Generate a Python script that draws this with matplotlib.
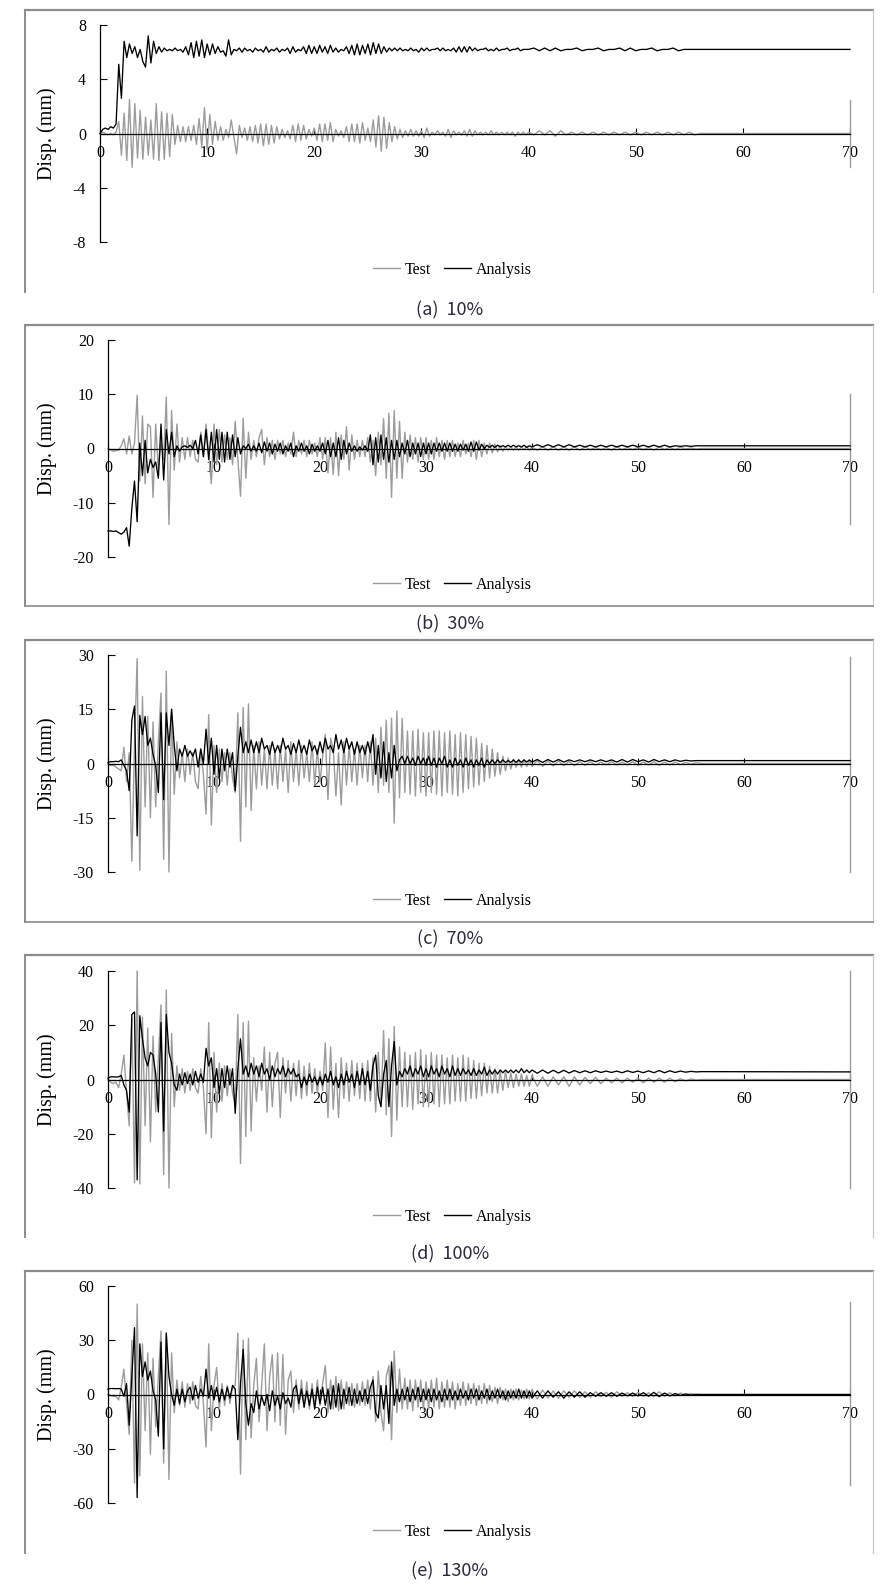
import numpy as np
import matplotlib
matplotlib.use("Agg")
import matplotlib.pyplot as plt
from matplotlib.lines import Line2D

SERIF = ["Liberation Serif", "DejaVu Serif"]
plt.rcParams["font.family"] = SERIF

# ---------------- data ----------------
t_main = np.arange(161) * 0.25          # 0 .. 40 s
t_tail = 40.5 + np.arange(32) * 0.5     # 40.5 .. 56 s
t_last = 70.0

case_labels = ["(a)", "(b)", "(c)", "(d)", "(e)"]
level_labels = ["10%", "30%", "70%", "100%", "130%"]
y_limits = [8, 20, 30, 40, 60]
y_ticks = [[-8, -4, 0, 4, 8], [-20, -10, 0, 10, 20], [-30, -15, 0, 15, 30],
           [-40, -20, 0, 20, 40], [-60, -30, 0, 30, 60]]
x_ticks = [0, 10, 20, 30, 40, 50, 60, 70]

# ---- (a) 10% ----
test_a = [0, 0.1, 0, -0.1, 0, -0.1, 0.1, 0.9,
          -1.6, 1.5, -2.0, 2.5, -2.5, 2.2, -1.8, 1.7,
          -1.9, 1.2, -1.6, 1.0, -1.9, 2.2, -2.0, 1.6,
          -1.9, 1.5, -1.7, 1.4, -0.8, 0.6, -0.6, 0.5,
          -0.6, 0.5, -0.5, 0.6, -0.8, 1.1, -1.0, 1.9,
          -1.2, 1.4, -0.8, 0.9, -0.5, 0.5, -0.5, 0.3,
          -0.3, 1.0, -0.3, -1.5, 0.6, -0.3, 0.4, -0.5,
          0.5, -0.6, 0.6, -0.7, 0.7, -0.9, 0.7, -0.8,
          0.6, -0.7, 0.5, -0.4, 0.3, -0.3, 0.2, -0.4,
          0.6, -0.6, 0.7, -0.5, 0.6, -0.4, 0.3, -0.2,
          0.4, -0.5, 0.7, -0.6, 0.7, -0.5, 0.8, -0.6,
          0.3, -0.2, 0.2, -0.3, 0.5, -0.6, 0.7, -0.6,
          0.7, -0.7, 0.8, -0.5, 0.4, -0.6, 1.0, -1.0,
          1.3, -1.3, 1.2, -1.1, 0.8, -0.6, 0.5, -0.4,
          0.3, -0.3, 0.2, -0.2, 0.3, -0.2, 0.2, -0.2,
          0.2, -0.3, 0.4, -0.2, 0.1, -0.1, 0.2, -0.1,
          0.1, -0.2, 0.3, -0.3, 0.2, -0.1, 0.1, -0.1,
          0.2, -0.2, 0.3, -0.2, 0.2, -0.1, 0.1, -0.1,
          0.1, -0.1, 0.2, -0.1, 0.1, -0.1, 0.1, -0.1,
          0.1, -0.1, 0.1, -0.2, 0.1, -0.1, 0.1, -0.1,
          0.1]
analysis_a = [0, 0.3, 0.4, 0.3, 0.5, 0.4, 0.7, 5.1,
              2.6, 6.8, 5.6, 6.6, 5.9, 6.4, 5.6, 6.2,
              5.3, 4.9, 7.2, 5.2, 6.8, 5.9, 6.4, 6.0,
              6.3, 6.1, 6.2, 6.1, 6.3, 6.1, 6.2, 6.0,
              6.4, 5.8, 6.7, 5.6, 6.8, 5.7, 6.9, 5.6,
              6.6, 5.8, 6.6, 5.9, 6.4, 6.0, 6.1, 5.7,
              6.9, 5.8, 6.2, 6.1, 6.3, 6.0, 6.3, 6.1,
              6.2, 6.0, 6.3, 6.1, 6.2, 6.0, 6.4, 6.0,
              6.2, 6.1, 6.3, 6.0, 6.2, 6.1, 6.3, 5.9,
              6.4, 6.0, 6.2, 6.1, 6.4, 5.9, 6.5, 5.9,
              6.4, 5.9, 6.5, 6.0, 6.4, 5.9, 6.5, 6.0,
              6.3, 6.0, 6.2, 6.1, 6.4, 5.9, 6.5, 5.8,
              6.6, 5.8, 6.5, 5.9, 6.6, 5.8, 6.7, 5.9,
              6.6, 5.9, 6.4, 6.0, 6.3, 6.1, 6.3, 6.1,
              6.3, 6.1, 6.2, 6.1, 6.3, 6.1, 6.2, 6.0,
              6.3, 6.1, 6.3, 6.1, 6.2, 6.2, 6.3, 6.1,
              6.3, 6.1, 6.2, 6.1, 6.3, 6.0, 6.4, 6.0,
              6.4, 6.0, 6.4, 6.1, 6.3, 6.1, 6.2, 6.2,
              6.3, 6.1, 6.2, 6.1, 6.3, 6.1, 6.2, 6.2,
              6.3, 6.1, 6.2, 6.2, 6.3, 6.1, 6.2, 6.2,
              6.2]
test_a_tail = [-0.1, 0.2, -0.1, 0.2, -0.2, 0.2, -0.1, 0.1,
               -0.1, 0.1, -0.1, 0.1, -0.1, 0.1, -0.1, 0.1,
               -0.1, 0.1, -0.1, 0.1, -0.1, 0.1, -0.1, 0.1,
               -0.1, 0.1, -0.1, 0.1, -0.1, 0.1, -0.1, 0.0]
analysis_a_tail = [6.3, 6.1, 6.3, 6.1, 6.3, 6.1, 6.2, 6.2,
                   6.3, 6.1, 6.2, 6.2, 6.3, 6.1, 6.2, 6.2,
                   6.3, 6.1, 6.3, 6.1, 6.2, 6.2, 6.3, 6.1,
                   6.2, 6.2, 6.3, 6.1, 6.2, 6.2, 6.2, 6.2]
last_a = [0.0, 6.2]
test_a_span = [2.5, -2.5]

# ---- (b) 30% ----
test_b = [0, -0.3, -0.5, -0.4, -0.3, 0.5, 1.8, -1.0,
          2.3, -1.0, 1.0, 9.8, -6.0, 6.0, -6.5, 4.5,
          4.0, -9.0, 4.5, -4.0, 1.0, -2.0, 9.5, -14.0,
          7.0, -4.0, 4.5, -2.5, 2.0, -2.0, 2.0, -1.5,
          1.5, -2.0, -2.5, 3.0, -1.5, 4.5, -1.0, -6.5,
          4.5, -3.0, 3.5, -2.5, 2.5, -2.0, 2.0, -3.0,
          5.0, -2.0, -8.8, 5.6, -5.5, 3.0, -2.0, 1.5,
          -1.5, 2.0, 3.5, -3.0, 2.0, -1.5, 1.5, -2.0,
          1.5, -1.0, 1.5, -1.5, 1.0, -1.0, 3.0, -1.5,
          1.5, -1.0, 1.5, -1.5, 1.5, -1.0, 1.0, -1.5,
          2.0, -2.0, 2.0, -4.5, 2.0, -4.8, 3.0, -5.0,
          2.5, -2.0, 4.0, -4.0, 2.5, -2.0, 1.5, -1.5,
          1.5, -1.5, 2.0, -2.5, 1.5, -5.0, 3.0, -3.0,
          5.5, -5.5, 6.5, -9.0, 7.0, -5.5, 5.0, -5.5,
          3.0, -2.5, 2.5, -2.0, 2.0, -2.5, 2.0, -2.0,
          2.0, -2.0, 1.5, -2.0, 2.0, -1.5, 1.5, -2.0,
          1.5, -1.5, 1.5, -1.5, 1.0, -1.5, 1.5, -1.0,
          1.0, -1.5, 1.5, -2.0, 1.5, -1.5, 1.0, -1.0,
          1.0, -0.8, 0.8, -0.6, 0.5, -0.5, 0.4, -0.3,
          0.3, -0.3, 0.3, -0.3, 0.3, -0.2, 0.3, -0.3,
          0.2]
analysis_b = [-15.2, -15.2, -15.3, -15.2, -15.5, -15.8, -15.4, -14.6,
              -18.0, -11.0, -6.0, -13.5, 1.0, -5.0, 1.5, -4.5,
              -2.0, -3.5, -2.5, -5.5, 4.5, -5.8, 3.5, -1.0,
              3.0, -1.5, 0.5, -0.5, 0.3, 0.5, 0.2, 0.6,
              0.0, 1.5, -1.0, 2.5, -1.5, 3.5, -2.0, 3.0,
              -2.5, 3.5, -2.0, 3.0, -2.5, 3.0, -2.0, 2.5,
              -1.5, 2.0, -1.0, 0.5, 0.0, 0.8, -0.5, 0.5,
              -0.5, 1.0, -0.8, 1.2, -0.5, 1.0, -1.0, 0.8,
              -0.5, 1.0, -1.0, 0.5, -0.5, 1.0, -1.5, 0.5,
              -0.5, 1.0, -0.5, 0.5, -1.0, 0.8, -0.5, 0.5,
              -0.5, 1.0, -1.0, 1.5, -1.5, 1.0, -1.5, 2.0,
              -2.0, 1.5, -1.0, 1.0, -0.5, 0.5, -0.5, 0.3,
              -0.3, 0.5, -0.5, 2.5, -3.0, 2.0, -2.5, 2.5,
              -2.0, 2.0, -2.5, 1.5, -2.0, 1.5, -1.5, 1.0,
              -1.0, 1.5, -1.5, 1.0, -1.0, 1.0, -1.5, 1.0,
              -1.0, 1.0, -1.0, 1.0, -0.5, 1.0, -0.5, 1.0,
              -0.5, 1.0, -0.5, 0.8, -0.5, 0.8, -0.3, 0.8,
              -0.5, 1.2, -0.5, 1.2, -0.3, 0.8, 0.0, 0.6,
              0.2, 0.6, 0.2, 0.6, 0.3, 0.5, 0.3, 0.6,
              0.3, 0.6, 0.3, 0.5, 0.3, 0.6, 0.2, 0.5,
              0.3]
test_b_tail = [-0.3, 0.3, -0.3, 0.3, -0.3, 0.3, -0.3, 0.3,
               -0.3, 0.3, -0.2, 0.2, -0.2, 0.2, -0.3, 0.3,
               -0.2, 0.2, -0.2, 0.2, -0.2, 0.2, -0.3, 0.3,
               -0.2, 0.2, -0.2, 0.2, -0.1, 0.1, -0.1, 0.0]
analysis_b_tail = [0.7, 0.3, 0.7, 0.3, 0.7, 0.3, 0.7, 0.3,
                   0.6, 0.3, 0.6, 0.3, 0.6, 0.3, 0.6, 0.3,
                   0.6, 0.3, 0.6, 0.3, 0.6, 0.3, 0.6, 0.3,
                   0.6, 0.3, 0.5, 0.4, 0.5, 0.4, 0.5, 0.5]
last_b = [0.0, 0.5]
test_b_span = [10.0, -14.0]

# ---- (c) 70% ----
test_c = [0, -0.5, -0.5, -1.0, -1.5, -2.0, 4.5, -5.0,
          3.0, -27.0, 5.0, 29.0, -29.5, 18.5, -12.0, 13.0,
          -15.0, 11.5, -12.0, 6.0, 19.5, -26.5, 25.5, -30.0,
          15.0, -8.5, 6.0, -4.0, 3.0, -5.0, 4.0, -3.0,
          3.0, -5.0, -7.0, 4.0, -3.0, -14.0, 13.5, -17.0,
          5.0, -8.0, 4.0, -5.0, 3.0, -6.0, 3.0, -4.0,
          -8.0, 14.0, -21.5, 15.5, -12.0, 16.5, -13.0, 5.0,
          -7.0, 6.0, -6.0, 4.0, -7.0, 5.0, -6.0, 4.0,
          -7.0, 5.0, -5.0, 4.0, -8.0, 6.0, -5.0, 4.0,
          -6.0, 5.0, -4.0, 3.0, -5.0, 6.0, -6.0, 4.0,
          -5.0, 2.0, 8.0, -10.0, 7.0, 4.0, -9.0, 3.0,
          -11.5, 6.0, -6.0, 5.0, -5.0, 4.0, -6.0, 5.0,
          -4.0, 5.0, -5.0, 6.0, -6.0, 7.0, -8.0, 10.0,
          -6.0, 12.0, -8.0, 12.5, -16.5, 14.5, -9.5, 12.5,
          -8.0, 9.0, -8.5, 9.0, -9.0, 9.5, -8.0, 8.5,
          -9.0, 8.5, -8.0, 9.0, -8.5, 9.0, -9.0, 8.5,
          -8.0, 9.0, -8.5, 8.0, -9.0, 8.5, -8.0, 8.0,
          -7.0, 7.5, -6.5, 7.0, -6.0, 5.5, -5.0, 5.0,
          -4.0, 4.0, -3.5, 3.0, -3.0, 2.0, -2.0, 1.5,
          -1.5, 1.2, -1.0, 1.0, -1.0, 1.0, -0.8, 0.8,
          -0.8]
analysis_c = [0.3, 0.5, 0.5, 0.6, 0.5, 1.0, -0.5, -2.0,
              -7.5, 12.0, 15.9, -20.0, 13.3, 8.0, 13.0, 5.0,
              7.0, 2.5, -0.6, -8.0, 14.0, -10.0, 14.0, 5.0,
              15.0, 5.0, -2.0, 4.0, 2.0, 5.0, 2.0, 3.5,
              2.0, 4.0, -1.0, 4.0, 0.0, 9.5, 0.0, 7.0,
              -3.0, 5.0, -4.0, 4.0, -2.0, 4.0, -1.0, 3.0,
              -7.5, 2.0, 10.0, 3.0, 6.0, 3.0, 6.5, 3.0,
              6.0, 3.0, 7.0, 4.0, 5.0, 2.5, 6.0, 3.0,
              5.0, 3.0, 7.0, 4.0, 5.0, 2.5, 5.5, 3.0,
              6.5, 3.0, 5.0, 2.5, 6.5, 3.5, 5.0, 2.5,
              6.0, 3.0, 7.0, 4.0, 5.0, 3.0, 8.0, 4.0,
              6.5, 3.0, 7.0, 4.0, 6.0, 2.5, 6.0, 3.0,
              5.0, 2.5, 6.0, 3.0, 8.0, -3.0, 5.0, -4.0,
              6.0, -5.0, 3.0, -4.0, 5.0, -2.0, 1.0, 2.0,
              0.0, 2.0, 0.0, 1.5, -0.5, 2.0, 0.0, 1.5,
              -0.5, 2.0, -0.5, 1.5, -1.0, 1.5, 0.0, 2.0,
              -1.0, 1.0, -1.0, 1.5, -0.5, 1.0, -1.0, 1.5,
              -0.5, 1.0, -1.0, 1.0, -0.5, 1.5, -1.0, 1.0,
              0.0, 1.0, 0.0, 1.0, 0.2, 1.0, 0.3, 0.8,
              0.3, 1.0, 0.3, 1.0, 0.3, 1.0, 0.4, 1.0,
              0.4]
test_c_tail = [0.8, -0.8, 0.7, -0.7, 0.7, -0.6, 0.6, -0.6,
               0.5, -0.5, 0.5, -0.5, 0.4, -0.4, 0.5, -0.4,
               0.4, -0.4, 0.5, -0.5, 0.4, -0.4, 0.5, -0.5,
               0.4, -0.4, 0.4, -0.3, 0.3, -0.2, 0.2, 0.0]
analysis_c_tail = [1.1, 0.3, 1.1, 0.4, 1.1, 0.4, 1.0, 0.5,
                   1.0, 0.5, 1.0, 0.5, 1.0, 0.5, 1.0, 0.4,
                   1.1, 0.4, 1.1, 0.5, 1.0, 0.4, 1.1, 0.5,
                   1.0, 0.5, 1.0, 0.6, 0.9, 0.7, 0.8, 0.8]
last_c = [0.0, 0.8]
test_c_span = [29.5, -30.0]

# ---- (d) 100% ----
test_d = [0, -1.0, -1.5, -1.0, -3.0, 2.0, 9.0, -5.0,
          -17.0, 22.5, -38.0, 40.0, -38.5, 23.0, -17.0, 19.0,
          -23.0, 16.0, -12.0, 8.0, 27.5, -35.0, 33.0, -40.0,
          17.0, -10.0, 5.0, -4.0, 4.0, -5.0, 3.0, -4.0,
          4.0, -3.0, -5.0, 4.0, -3.0, -20.0, 21.0, -21.5,
          10.0, -12.0, 6.0, -8.0, 5.0, -6.0, 4.0, -5.0,
          -9.0, 24.0, -31.0, 21.0, -21.0, 21.5, -19.0, 8.0,
          -8.0, 5.0, -4.0, 12.0, -12.0, 10.0, -10.0, 6.0,
          10.0, -14.0, 8.0, -5.0, 7.0, -8.0, 6.0, -6.0,
          7.0, -7.0, 5.0, -6.0, 6.0, -5.0, 4.0, -5.0,
          3.0, -4.0, 13.5, -14.0, 12.0, -11.0, 6.0, -14.0,
          8.0, -7.0, 6.0, -8.0, 7.0, -6.0, 6.0, -7.0,
          6.0, -8.0, 7.0, -8.0, 8.0, -12.0, 10.0, -10.0,
          18.0, -13.0, 15.0, -21.0, 19.5, -15.0, 12.0, -10.0,
          10.0, -10.0, 9.0, -11.0, 10.0, -9.0, 11.0, -10.0,
          9.0, -10.0, 10.0, -9.0, 9.0, -10.0, 9.0, -9.0,
          8.0, -9.0, 9.0, -8.0, 8.0, -8.0, 9.0, -8.0,
          8.0, -7.0, 7.0, -7.0, 6.0, -6.0, 6.0, -5.0,
          5.0, -5.0, 4.0, -5.0, 3.0, -4.0, 3.0, -3.0,
          2.5, -3.0, 2.0, -2.5, 2.0, -2.5, 1.5, -2.5,
          1.5]
analysis_d = [0.5, 1.0, 1.0, 0.9, 1.0, 1.5, -2.0, -4.0,
              -12.0, 24.0, 24.9, -37.0, 23.5, 15.0, 8.0, 5.0,
              10.0, 9.0, 2.0, -12.0, 21.0, -19.0, 24.0, 10.0,
              6.0, -2.0, -4.0, 2.0, -2.0, 2.5, -1.5, 2.0,
              -2.0, 3.0, -1.0, 2.0, -1.0, 11.5, 5.0, 8.0,
              -3.0, 4.0, -5.0, 4.0, -3.0, 5.0, -2.0, 4.0,
              -12.5, 4.0, 15.0, 2.0, 5.0, 1.0, 6.0, 2.0,
              5.0, 1.0, 6.0, 2.0, 4.0, 0.0, 5.0, 1.0,
              4.0, 2.0, 5.0, 1.0, 4.0, 2.0, 4.0, 1.0,
              2.0, -3.0, 1.0, -2.0, 2.0, -1.0, 1.0, -2.0,
              1.0, -2.0, 2.0, -1.0, 3.0, -2.0, 1.0, -3.0,
              2.0, -2.0, 3.0, -1.0, 2.0, -3.0, 3.0, -2.0,
              4.0, -2.0, 3.0, -4.0, 5.0, 9.0, -6.0, -10.0,
              2.0, 7.0, -10.0, 5.0, 14.0, -2.0, 3.0, 1.0,
              4.0, 2.0, 5.0, 1.0, 4.0, 2.0, 5.0, 1.0,
              4.0, 1.0, 5.0, 2.0, 4.0, 1.0, 5.0, 2.0,
              4.0, 1.0, 5.0, 1.5, 4.0, 1.5, 4.0, 2.0,
              3.5, 1.5, 4.0, 1.5, 3.5, 2.0, 4.5, 1.5,
              3.5, 2.0, 3.5, 2.0, 3.5, 2.5, 3.5, 2.5,
              3.5, 2.5, 3.5, 2.5, 4.0, 2.5, 3.5, 2.5,
              3.5]
test_d_tail = [-2.5, 1.0, -2.5, 1.0, -2.0, 1.0, -2.5, 1.0,
               -2.0, 0.8, -1.5, 0.8, -1.5, 0.5, -1.2, 0.5,
               -1.2, 0.5, -1.0, 0.5, -1.2, 0.5, -1.0, 0.5,
               -1.0, 0.5, -0.8, 0.3, -0.5, 0.2, -0.2, 0.0]
analysis_d_tail = [2.3, 3.5, 2.3, 3.4, 2.4, 3.4, 2.4, 3.3,
                   2.5, 3.2, 2.5, 3.2, 2.6, 3.1, 2.6, 3.1,
                   2.5, 3.2, 2.6, 3.1, 2.5, 3.2, 2.5, 3.3,
                   2.5, 3.2, 2.6, 3.1, 2.7, 3.0, 2.8, 2.9]
last_d = [0.0, 2.8]
test_d_span = [40.0, -40.0]

# ---- (e) 130% ----
test_e = [0, -0.5, -1.0, -1.0, -3.0, 4.0, 14.0, -5.0,
          -22.0, 30.0, -49.0, 50.0, -45.0, 28.0, -20.0, 23.0,
          -33.0, 20.0, -18.0, 10.0, 35.0, -38.0, 34.0, -47.0,
          23.0, -10.0, 8.0, -6.0, 7.0, -7.0, 6.0, -5.0,
          7.0, -6.0, -8.0, 10.0, -5.0, -29.0, 28.0, -20.0,
          5.0, 15.0, -8.0, 6.0, -6.0, 5.0, -5.0, 4.0,
          5.0, 34.0, -44.0, 30.0, -25.0, 31.0, -24.0, 5.0,
          20.0, -15.0, 5.0, 28.0, -20.0, 10.0, 22.0, -15.0,
          23.0, -17.0, 22.0, -22.0, 8.0, 13.0, -10.0, 8.0,
          -8.0, 8.0, -7.0, 7.0, -8.0, 6.0, -7.0, 8.0,
          -6.0, 6.0, 16.0, -10.0, 8.0, -8.0, 10.0, -9.0,
          8.0, -8.0, 7.0, -6.0, 6.0, -7.0, 6.0, -6.0,
          7.0, -6.0, 8.0, -8.0, 10.0, -15.0, 13.0, -10.0,
          -20.0, 10.0, 16.0, -25.0, 24.0, -10.0, 14.0, -8.0,
          9.0, -8.0, 8.0, -9.0, 8.0, -7.0, 8.0, -8.0,
          7.0, -8.0, 8.0, -7.0, 9.0, -8.0, 7.0, -7.0,
          8.0, -7.0, 7.0, -8.0, 6.0, -6.0, 7.0, -6.0,
          6.0, -5.0, 6.0, -6.0, 5.0, -5.0, 6.0, -5.0,
          5.0, -4.0, 4.0, -5.0, 4.0, -3.0, 3.0, -4.0,
          3.0, -3.0, 3.0, -3.0, 2.5, -2.5, 3.0, -2.5,
          2.5]
analysis_e = [3.0, 3.3, 3.3, 3.2, 3.3, 3.0, -1.0, 6.0,
              -17.0, 10.0, 37.0, -57.0, 28.0, 10.0, 18.0, 8.0,
              13.0, 2.0, -3.0, -23.0, 29.0, -30.0, 34.0, 10.0,
              0.0, -6.0, 3.0, -5.0, 3.0, -4.0, 2.0, 4.0,
              -3.0, 5.0, -2.0, 3.0, -1.0, 14.0, -2.0, 5.0,
              -3.0, 4.0, -4.0, 3.0, -3.0, 4.0, -2.0, 5.0,
              3.0, -25.0, 6.0, 25.0, -5.0, -17.0, -5.0, -10.0,
              2.0, -8.0, -1.0, -6.0, 0.0, -9.0, 2.0, -6.0,
              -1.0, -8.0, 1.0, -5.0, -2.0, -7.0, 3.0, 5.0,
              -5.0, 3.0, -7.0, 2.0, -6.0, 3.0, -8.0, 4.0,
              -5.0, 4.0, -6.0, 3.0, -8.0, 5.0, -7.0, 6.0,
              -8.0, 3.0, -5.0, 4.0, -6.0, 3.0, -5.0, 2.0,
              -4.0, 3.0, -5.0, 4.0, 8.0, -10.0, -13.0, 5.0,
              -8.0, 5.0, -16.0, 18.0, -6.0, 3.0, -4.0, 3.0,
              -3.0, 4.0, -4.0, 3.0, -3.0, 4.0, -4.0, 3.0,
              -3.0, 3.0, -4.0, 3.0, -3.0, 2.0, -4.0, 3.0,
              -3.0, 3.0, -3.0, 2.0, -3.0, 3.0, -2.0, 2.0,
              -3.0, 3.0, -2.0, 3.0, -3.0, 2.0, -2.0, 3.0,
              -3.0, 2.0, -2.0, 3.0, -2.0, 2.0, -3.0, 2.0,
              -2.0, 2.0, -2.0, 3.0, -2.0, 2.0, -2.0, 2.0,
              -2.0]
test_e_tail = [-2.5, 2.5, -2.0, 2.0, -2.0, 2.0, -1.5, 2.0,
               -1.5, 1.5, -1.5, 1.5, -1.2, 1.2, -1.5, 1.5,
               -1.0, 1.0, -1.0, 1.2, -1.0, 1.0, -1.2, 1.5,
               -1.0, 1.0, -0.8, 0.8, -0.5, 0.5, -0.2, 0.0]
analysis_e_tail = [2.0, -2.0, 2.0, -1.5, 1.5, -2.0, 1.5, -1.5,
                   1.5, -1.5, 1.0, -1.0, 1.0, -1.0, 1.0, -1.0,
                   0.8, -0.8, 0.8, -0.8, 1.0, -1.0, 1.2, -1.2,
                   0.8, -0.8, 0.5, -0.5, 0.3, -0.3, 0.1, 0.0]
last_e = [0.0, 0.0]
test_e_span = [51.0, -50.0]

tests = [test_a, test_b, test_c, test_d, test_e]
analyses = [analysis_a, analysis_b, analysis_c, analysis_d, analysis_e]
test_tails = [test_a_tail, test_b_tail, test_c_tail, test_d_tail, test_e_tail]
analysis_tails = [analysis_a_tail, analysis_b_tail, analysis_c_tail,
                  analysis_d_tail, analysis_e_tail]
lasts = [last_a, last_b, last_c, last_d, last_e]
spans = [test_a_span, test_b_span, test_c_span, test_d_span, test_e_span]

# ---------------- layout (pixels of the 889x1591 figure) ----------------
W, H = 889, 1591
GRAY = "#9c9c9c"

ax_left = [100, 108, 108, 108, 108]
ax_right = 850
ax_top = [25, 340, 655, 971, 1286]
ax_bot = [242, 557, 872, 1188, 1503]
frame_top = [10, 325, 640, 955, 1271]
frame_bot = [292, 606, 922, 1237, 1553]
frame_has_bottom = [False, True, True, False, False]
legend_y = [270, 585, 901, 1217, 1532]
caption_y = [310, 624, 939, 1254, 1571]

fig = plt.figure(figsize=(W / 100, H / 100), dpi=100)
fig.patch.set_facecolor("white")


def fx(px):
    return px / W


def fy(py):
    return 1 - py / H


for i in range(5):
    l, r, t, b = ax_left[i], ax_right, ax_top[i], ax_bot[i]
    ax = fig.add_axes([fx(l), fy(b), fx(r) - fx(l), fy(t) - fy(b)])
    ax.set_facecolor("none")
    for s in ["top", "right"]:
        ax.spines[s].set_visible(False)
    ax.spines["bottom"].set_position(("data", 0))

    ts = np.concatenate([t_main, t_tail, [t_last]])
    yt = np.concatenate([tests[i], test_tails[i], [lasts[i][0]]])
    ya = np.concatenate([analyses[i], analysis_tails[i], [lasts[i][1]]])
    ax.plot(ts, yt, color=GRAY, lw=1.0, zorder=2, clip_on=False)
    ax.plot([t_last, t_last], spans[i], color=GRAY, lw=1.0, zorder=2, clip_on=False)
    ax.plot(ts, ya, color="black", lw=0.95, zorder=3, clip_on=False)

    lim = y_limits[i]
    ax.set_xlim(0, 70)
    ax.set_ylim(-lim, lim)
    ax.set_xticks(x_ticks)
    ax.set_yticks(y_ticks[i])
    ax.set_xticklabels([str(v) for v in x_ticks])
    ax.set_yticklabels([str(v) for v in y_ticks[i]])

    ax.spines["bottom"].set_linewidth(0.9)
    ax.spines["left"].set_linewidth(0.9)
    ax.spines["bottom"].set_zorder(4)
    ax.tick_params(axis="x", direction="in", length=4, width=0.8, pad=8, labelsize=11.5)
    ax.tick_params(axis="y", direction="in", length=5, width=0.8, pad=10, labelsize=11.5)

    ax.set_ylabel("Disp. (mm)", fontsize=14.5)
    ax.yaxis.set_label_coords((57 - l) / (r - l), 0.5)

    handles = [Line2D([], [], color=GRAY, lw=1.0), Line2D([], [], color="black", lw=1.0)]
    fig.legend(handles, ["Test", "Analysis"], loc="center",
               bbox_to_anchor=(fx(452), fy(legend_y[i])), ncol=2, frameon=False,
               prop={"size": 11.5}, handlelength=1.7,
               handletextpad=0.3, columnspacing=0.8, borderpad=0)

    # panel frame
    ft, fb = frame_top[i], frame_bot[i]
    fig.add_artist(Line2D([fx(25), fx(873)], [fy(ft), fy(ft)], color="#8c8c8c",
                          lw=1.6, transform=fig.transFigure))
    fig.add_artist(Line2D([fx(25), fx(25)], [fy(ft), fy(fb)], color="#8c8c8c",
                          lw=1.4, transform=fig.transFigure))
    fig.add_artist(Line2D([fx(873), fx(873)], [fy(ft), fy(fb)], color="#c8c8c8",
                          lw=0.9, transform=fig.transFigure))
    if frame_has_bottom[i]:
        fig.add_artist(Line2D([fx(25), fx(873)], [fy(fb), fy(fb)], color="#8c8c8c",
                              lw=1.2, transform=fig.transFigure))

    fig.text(fx(450), fy(caption_y[i]), f"{case_labels[i]}  {level_labels[i]}",
             ha="center", va="center", fontsize=13, color="#2a2a3c",
             family=["Noto Sans CJK KR", "DejaVu Sans"])

fig.savefig("out.png", dpi=100, facecolor="white")
